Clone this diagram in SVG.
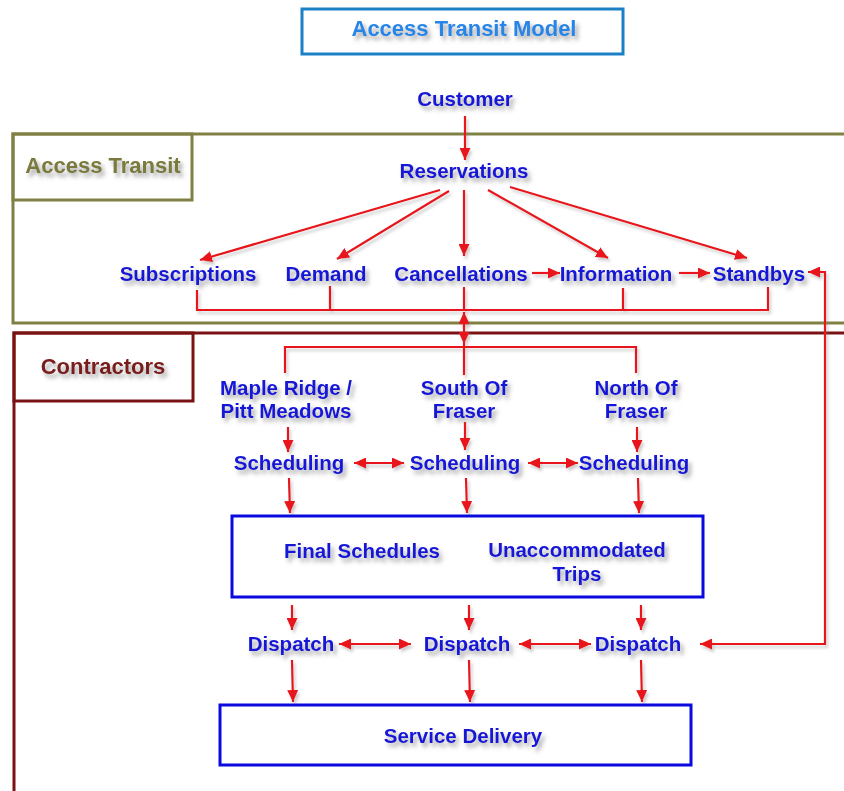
<svg xmlns="http://www.w3.org/2000/svg" width="844" height="791" viewBox="0 0 844 791">
<defs>
<style>
.t{font-family:"Liberation Sans",Arial,sans-serif;font-weight:bold;font-size:20.5px;fill:#1515d6;text-anchor:middle}
.h{font-family:"Liberation Sans",Arial,sans-serif;font-weight:bold;font-size:22px;text-anchor:middle}
.c{fill:none;stroke:#e8141a;stroke-width:2.2}
.a{marker-end:url(#ah)}
.d{marker-start:url(#ah);marker-end:url(#ah)}
</style>
<filter id="sh" x="-10%" y="-30%" width="130%" height="180%">
<feDropShadow dx="3" dy="4" stdDeviation="2" flood-color="#606060" flood-opacity="0.55"/>
</filter>
<filter id="sl" x="-20%" y="-20%" width="140%" height="140%">
<feDropShadow dx="2" dy="3" stdDeviation="1.5" flood-color="#808080" flood-opacity="0.4"/>
</filter>
<marker id="ah" viewBox="0 0 12 11" refX="12" refY="5.5" markerWidth="12" markerHeight="11" markerUnits="userSpaceOnUse" orient="auto-start-reverse">
<path d="M0,0 L12,5.5 L0,11 z" fill="#e8141a"/>
</marker>
</defs>
<rect width="844" height="791" fill="#ffffff"/>

<g id="title">
<rect x="302" y="9" width="321" height="45" fill="#fff" stroke="#1b80c6" stroke-width="3"/>
<text class="h" x="464" y="36" fill="#2585e6" filter="url(#sh)">Access Transit Model</text>
</g>

<g id="section-access-transit">
<rect x="13" y="134" width="900" height="189" fill="none" stroke="#808045" stroke-width="3"/>
<rect x="13" y="134" width="179" height="66" fill="none" stroke="#808045" stroke-width="3"/>
<text class="h" x="103" y="173" fill="#7a7a3c" filter="url(#sh)">Access Transit</text>
</g>

<g id="section-contractors">
<rect x="14" y="333" width="900" height="500" fill="none" stroke="#7a1214" stroke-width="3"/>
<rect x="14" y="333" width="179" height="68" fill="none" stroke="#7a1214" stroke-width="3"/>
<text class="h" x="103" y="374" fill="#7a1a1a" filter="url(#sh)">Contractors</text>
</g>

<g id="connectors" filter="url(#sl)">
<line class="c a" x1="465" y1="116" x2="465" y2="160"/>
<line class="c a" x1="440" y1="190" x2="200" y2="260"/>
<line class="c a" x1="449" y1="191" x2="337" y2="259"/>
<line class="c a" x1="464" y1="190" x2="464" y2="256"/>
<line class="c a" x1="488" y1="190" x2="608" y2="258"/>
<line class="c a" x1="510" y1="187" x2="747" y2="258"/>
<line class="c a" x1="532" y1="273" x2="560" y2="273"/>
<line class="c a" x1="679" y1="273" x2="710" y2="273"/>
<polyline class="c d" points="700,644 825,644 825,272 808,272"/>
<polyline class="c" points="197,290 197,310 768,310 768,287"/>
<line class="c" x1="330" y1="286" x2="330" y2="310"/>
<line class="c" x1="623" y1="288" x2="623" y2="310"/>
<line class="c" x1="464" y1="287" x2="464" y2="310"/>
<line class="c d" x1="464" y1="312" x2="464" y2="344"/>
<polyline class="c" points="285,373 285,347 636,347 636,373"/>
<line class="c" x1="464" y1="344" x2="464" y2="375"/>
<line class="c a" x1="288" y1="427" x2="288" y2="452"/>
<line class="c a" x1="465" y1="422" x2="465" y2="450"/>
<line class="c a" x1="637" y1="427" x2="637" y2="452"/>
<line class="c d" x1="354" y1="463" x2="404" y2="463"/>
<line class="c d" x1="528" y1="463" x2="578" y2="463"/>
<line class="c a" x1="289" y1="478" x2="290" y2="513"/>
<line class="c a" x1="466" y1="478" x2="467" y2="513"/>
<line class="c a" x1="638" y1="478" x2="639" y2="513"/>
<line class="c a" x1="292" y1="605" x2="292" y2="630"/>
<line class="c a" x1="469" y1="605" x2="469" y2="630"/>
<line class="c a" x1="641" y1="605" x2="641" y2="630"/>
<line class="c d" x1="339" y1="644" x2="411" y2="644"/>
<line class="c d" x1="519" y1="644" x2="591" y2="644"/>
<line class="c a" x1="292" y1="660" x2="293" y2="702"/>
<line class="c a" x1="469" y1="660" x2="470" y2="702"/>
<line class="c a" x1="641" y1="660" x2="642" y2="702"/>
</g>

<g id="customer"><text class="t" x="465" y="106" filter="url(#sh)">Customer</text></g>
<g id="reservations"><text class="t" x="464" y="178" filter="url(#sh)">Reservations</text></g>
<g id="subscriptions"><text class="t" x="188" y="281" filter="url(#sh)">Subscriptions</text></g>
<g id="demand"><text class="t" x="326" y="281" filter="url(#sh)">Demand</text></g>
<g id="cancellations"><text class="t" x="461" y="281" filter="url(#sh)">Cancellations</text></g>
<g id="information"><text class="t" x="616" y="281" filter="url(#sh)">Information</text></g>
<g id="standbys"><text class="t" x="759" y="281" filter="url(#sh)">Standbys</text></g>

<g id="maple-ridge"><text class="t" x="286" y="395" filter="url(#sh)">Maple Ridge /<tspan x="286" y="418">Pitt Meadows</tspan></text></g>
<g id="south-of-fraser"><text class="t" x="464" y="395" filter="url(#sh)">South Of<tspan x="464" y="418">Fraser</tspan></text></g>
<g id="north-of-fraser"><text class="t" x="636" y="395" filter="url(#sh)">North Of<tspan x="636" y="418">Fraser</tspan></text></g>

<g id="scheduling-1"><text class="t" x="289" y="470" filter="url(#sh)">Scheduling</text></g>
<g id="scheduling-2"><text class="t" x="465" y="470" filter="url(#sh)">Scheduling</text></g>
<g id="scheduling-3"><text class="t" x="634" y="470" filter="url(#sh)">Scheduling</text></g>

<g id="final-schedules-box">
<rect x="232" y="516" width="471" height="81" fill="none" stroke="#0a0ae0" stroke-width="3"/>
<text class="t" x="362" y="558" filter="url(#sh)">Final Schedules</text>
<text class="t" x="577" y="557" filter="url(#sh)">Unaccommodated<tspan x="577" y="581">Trips</tspan></text>
</g>

<g id="dispatch-1"><text class="t" x="291" y="651" filter="url(#sh)">Dispatch</text></g>
<g id="dispatch-2"><text class="t" x="467" y="651" filter="url(#sh)">Dispatch</text></g>
<g id="dispatch-3"><text class="t" x="638" y="651" filter="url(#sh)">Dispatch</text></g>

<g id="service-delivery">
<rect x="220" y="705" width="471" height="60" fill="none" stroke="#0a0ae0" stroke-width="3"/>
<text class="t" x="463" y="743" filter="url(#sh)">Service Delivery</text>
</g>
</svg>
